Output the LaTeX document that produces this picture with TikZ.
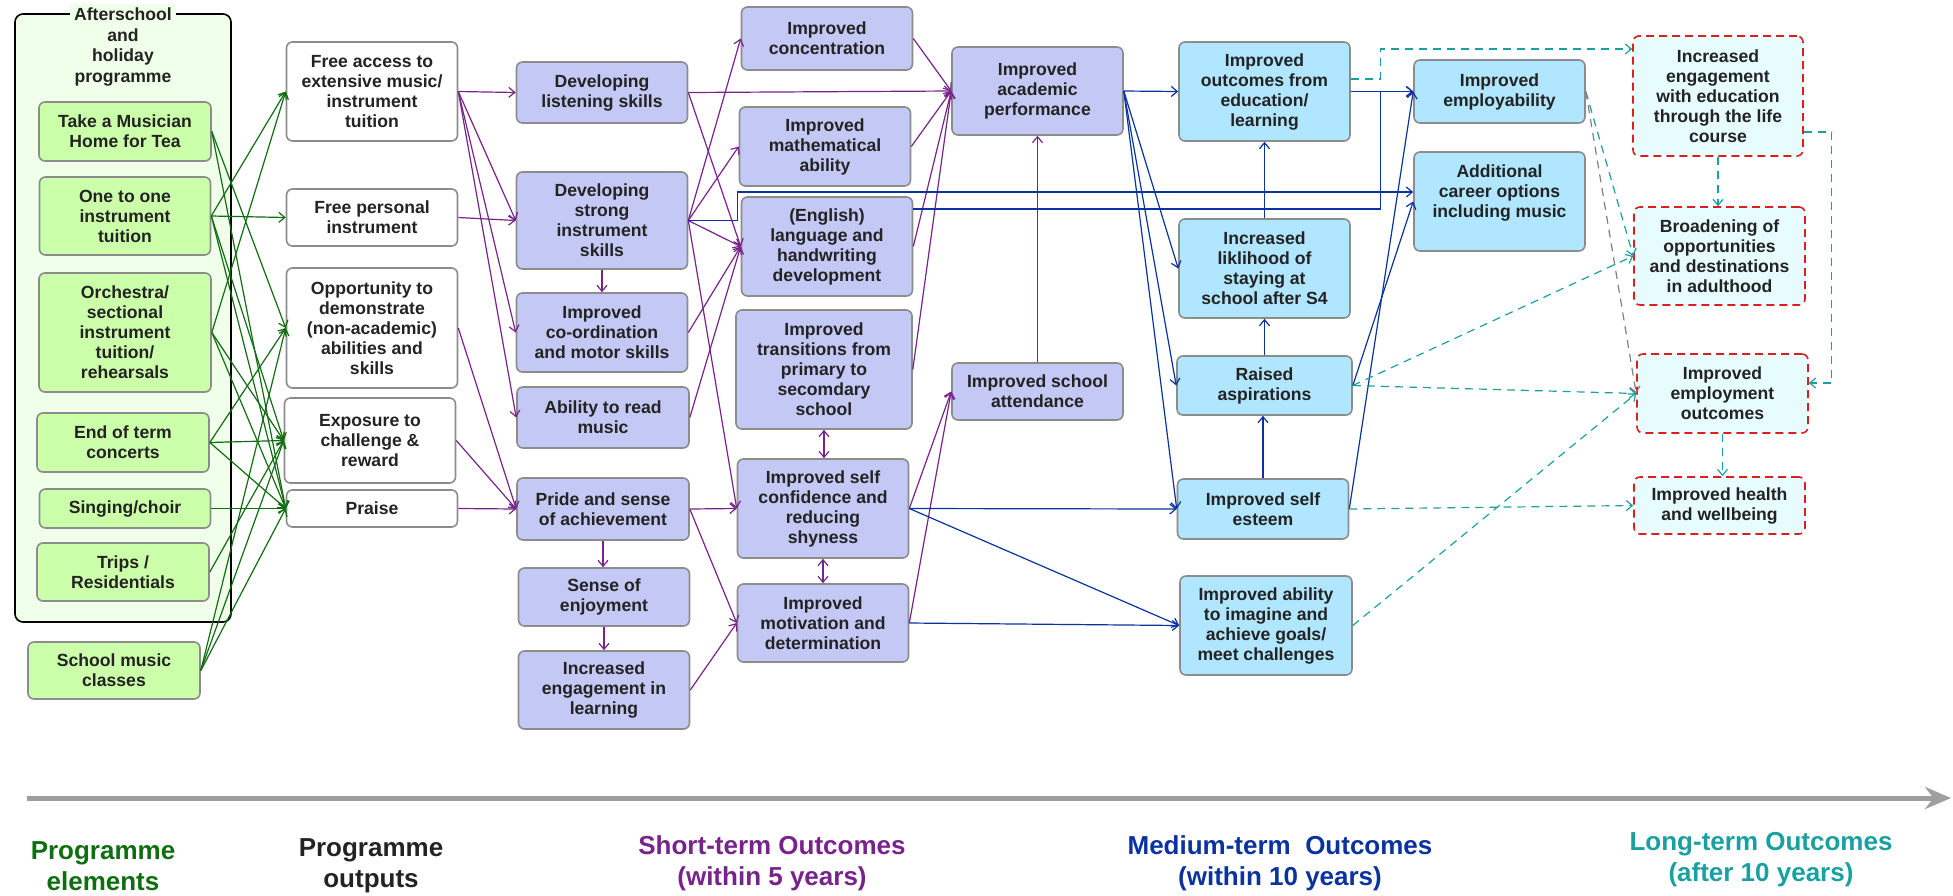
\documentclass[tikz,border=0pt]{standalone}
\usepackage{fontspec}
\setmainfont{Liberation Sans}
\usepackage{tikz}
\usetikzlibrary{arrows.meta, calc}

\definecolor{elemgreen}{RGB}{204, 255, 170}
\definecolor{groupgreen}{RGB}{240, 255, 234}
\definecolor{shortfill}{RGB}{196, 200, 244}
\definecolor{medfill}{RGB}{176, 230, 255}
\definecolor{longfill}{RGB}{230, 252, 255}
\definecolor{boxgrey}{RGB}{140, 140, 140}
\definecolor{dashred}{RGB}{220, 30, 30}
\definecolor{elemline}{RGB}{15, 110, 15}
\definecolor{shortline}{RGB}{120, 35, 140}
\definecolor{medline}{RGB}{10, 50, 160}
\definecolor{longline}{RGB}{25, 160, 160}
\definecolor{textdark}{RGB}{35, 35, 35}

\begin{document}
\begin{tikzpicture}[x=0.5pt, y=-0.5pt,
  box/.style={draw=boxgrey, line width=0.8pt, rounded corners=3pt, align=center, inner sep=2pt,
    text=textdark, font=\fontsize{8.8}{10}\selectfont\bfseries},
  boxsize/.style 2 args={minimum width=#1*0.5pt, minimum height=#2*0.5pt},
  elem/.style={box, fill=elemgreen},
  output/.style={box, fill=white},
  shortterm/.style={box, fill=shortfill},
  medterm/.style={box, fill=medfill},
  longterm/.style={box, fill=longfill, draw=dashred, dash pattern=on 4pt off 2.5pt},
  link/.style={line width=0.6pt, -{Straight Barb[length=3pt, width=5pt]}},
  twoway/.style={line width=0.6pt, {Straight Barb[length=3pt, width=5pt]}-{Straight Barb[length=3pt, width=5pt]}},
  gline/.style={link, draw=elemline},
  pline/.style={link, draw=shortline},
  bline/.style={link, draw=medline},
  tline/.style={link, draw=longline, dash pattern=on 4pt off 3pt},
  phase/.style={align=center, font=\fontsize{13}{15.5}\selectfont\bfseries}
]
  \useasboundingbox (0,0) rectangle (1953,895);

  % Afterschool group
  \node[draw=black, line width=0.8pt, fill=groupgreen, rounded corners=4pt, boxsize={216}{608}] (afterschool) at (123,318) {};
  \node[fill=groupgreen, inner sep=2pt, align=center, text=textdark, font=\fontsize{8.8}{10.3}\selectfont\bfseries] (afterschooltitle) at (123,47) {Afterschool\\and\\holiday\\programme};

  % Programme elements
  \node[elem, boxsize={172}{59}] (tea) at (125,131.5) {Take a Musician\\Home for Tea};
  \node[elem, boxsize={171}{78}] (one) at (125,216) {One to one\\instrument\\tuition};
  \node[elem, boxsize={172}{119}] (orch) at (125,332.5) {Orchestra/\\sectional\\instrument\\tuition/\\rehearsals};
  \node[elem, boxsize={172}{59}] (endterm) at (123,442.5) {End of term\\concerts};
  \node[elem, boxsize={171}{39}] (choir) at (125,508.5) {Singing/choir};
  \node[elem, boxsize={172}{58}] (trips) at (123,572) {Trips /\\Residentials};
  \node[elem, boxsize={172}{57}] (school) at (114,670.5) {School music\\classes};

  % Programme outputs
  \node[output, boxsize={171}{99}] (access) at (372,91.5) {Free access to\\extensive music/\\instrument\\tuition};
  \node[output, boxsize={171}{57}] (personal) at (372,217.5) {Free personal\\instrument};
  \node[output, boxsize={171}{120}] (opport) at (372,328) {Opportunity to\\demonstrate\\(non-academic)\\abilities and\\skills};
  \node[output, boxsize={171}{85}] (exposure) at (370,440.5) {Exposure to\\challenge \&\\reward};
  \node[output, boxsize={171}{37}] (praise) at (372,508.5) {Praise};

  % Short-term outcomes
  \node[shortterm, boxsize={171}{61}] (listen) at (602,92.5) {Developing\\listening skills};
  \node[shortterm, boxsize={171}{97}] (strong) at (602,220.5) {Developing\\strong\\instrument\\skills};
  \node[shortterm, boxsize={171}{79}] (coord) at (602,332.5) {Improved\\co-ordination\\and motor skills};
  \node[shortterm, boxsize={172}{61}] (read) at (603,417.5) {Ability to read\\music};
  \node[shortterm, boxsize={172}{62}] (pride) at (603,509) {Pride and sense\\of achievement};
  \node[shortterm, boxsize={171}{58}] (enjoy) at (604,597) {Sense of\\enjoyment};
  \node[shortterm, boxsize={171}{78}] (engage) at (604,690) {Increased\\engagement in\\learning};

  \node[shortterm, boxsize={171}{63}] (conc) at (827,38.5) {Improved\\concentration};
  \node[shortterm, boxsize={171}{79}] (maths) at (825,146.5) {Improved\\mathematical\\ability};
  \node[shortterm, boxsize={171}{99}] (english) at (827,246.5) {(English)\\language and\\handwriting\\development};
  \node[shortterm, boxsize={176}{119}] (trans) at (824,369.5) {Improved\\transitions from\\primary to\\secomdary\\school};
  \node[shortterm, boxsize={171}{99}] (confid) at (823,508.5) {Improved self\\confidence and\\reducing\\shyness};
  \node[shortterm, boxsize={171}{78}] (motiv) at (823,623) {Improved\\motivation and\\determination};

  \node[shortterm, boxsize={171}{88}] (academic) at (1037.5,91) {Improved\\academic\\performance};
  \node[shortterm, boxsize={171}{57}] (attend) at (1037.5,391.5) {Improved school\\attendance};

  % Medium-term outcomes
  \node[medterm, boxsize={171}{99}] (outcomes) at (1264.5,91.5) {Improved\\outcomes from\\education/\\learning};
  \node[medterm, boxsize={171}{99}] (likely) at (1264.5,268.5) {Increased\\liklihood of\\staying at\\school after S4};
  \node[medterm, boxsize={175}{59}] (raised) at (1264.5,385.5) {Raised\\aspirations};
  \node[medterm, boxsize={171}{60}] (esteem) at (1263,509) {Improved self\\esteem};
  \node[medterm, boxsize={172}{99}] (ability) at (1266,625.5) {Improved ability\\to imagine and\\achieve goals/\\meet challenges};

  \node[medterm, boxsize={171}{63}] (employ) at (1499.5,91.5) {Improved\\employability};
  \node[medterm, boxsize={171}{99}] (career) at (1499.5,201.5) {Additional\\career options\\including music\\\mbox{}};

  % Long-term outcomes
  \node[longterm, boxsize={170}{120}] (lifelong) at (1718,96) {Increased\\engagement\\with education\\through the life\\course};
  \node[longterm, boxsize={171}{98}] (broad) at (1719.5,256) {Broadening of\\opportunities\\and destinations\\in adulthood};
  \node[longterm, boxsize={171}{79}] (employout) at (1722.5,393.5) {Improved\\employment\\outcomes};
  \node[longterm, boxsize={171}{57}] (health) at (1719.5,505.5) {Improved health\\and wellbeing};

  % Elements to outputs
  \draw[gline] (tea.east) -- (opport.west);
  \draw[gline] (tea.east) -- (praise.west);
  \draw[gline] (one.east) -- (access.west);
  \draw[gline] (one.east) -- (personal.west);
  \draw[gline] (one.east) -- (exposure.west);
  \draw[gline] (one.east) -- (praise.west);
  \draw[gline] (orch.east) -- (access.west);
  \draw[gline] (orch.east) -- (exposure.west);
  \draw[gline] (orch.east) -- (praise.west);
  \draw[gline] (endterm.east) -- (opport.west);
  \draw[gline] (endterm.east) -- (exposure.west);
  \draw[gline] (endterm.east) -- (praise.west);
  \draw[gline] (choir.east) -- (praise.west);
  \draw[gline] (trips.east) -- (exposure.west);
  \draw[gline] (school.east) -- (opport.west);
  \draw[gline] (school.east) -- (exposure.west);
  \draw[gline] (school.east) -- (praise.west);

  % Outputs to short-term
  \draw[pline] (access.east) -- (listen.west);
  \draw[pline] (access.east) -- (strong.west);
  \draw[pline] (access.east) -- (coord.west);
  \draw[pline] (access.east) -- (read.west);
  \draw[pline] (personal.east) -- (strong.west);
  \draw[pline] (opport.east) -- (pride.west);
  \draw[pline] (exposure.east) -- (pride.west);
  \draw[pline] (praise.east) -- (pride.west);
  \draw[pline] (strong.south) -- (strong.south |- coord.north);
  \draw[pline] (pride.south) -- (pride.south |- enjoy.north);
  \draw[pline] (enjoy.south) -- (enjoy.south |- engage.north);

  % Within short-term
  \draw[pline] (listen.east) -- (academic.west);
  \draw[pline] (listen.east) -- (english.west);
  \draw[pline] (strong.east) -- (conc.west);
  \draw[pline] (strong.east) -- (maths.west);
  \draw[pline] (strong.east) -- (english.west);
  \draw[pline] (strong.east) -- (confid.west);
  \draw[pline] (coord.east) -- (english.west);
  \draw[pline] (read.east) -- (english.west);
  \draw[pline] (pride.east) -- (confid.west);
  \draw[pline] (pride.east) -- (motiv.west);
  \draw[pline] (engage.east) -- (motiv.west);
  \draw[twoway, draw=shortline] (trans.south) -- (trans.south |- confid.north);
  \draw[twoway, draw=shortline] (confid.south) -- (confid.south |- motiv.north);
  \draw[pline] (conc.east) -- (academic.west);
  \draw[pline] (maths.east) -- (academic.west);
  \draw[pline] (english.east) -- (academic.west);
  \draw[pline] (trans.east) -- (academic.west);
  \draw[pline] (confid.east) -- (attend.west);
  \draw[pline] (motiv.east) -- (attend.west);
  \draw[pline] (attend.north) -- (attend.north |- academic.south);

  % Medium-term
  \draw[bline] (strong.east) -- ++(49,0) |- ([yshift=4.75pt]career.west);
  \draw[bline] ([yshift=18.75pt]english.east) -| ([xshift=-16.5pt]employ.west) -- (employ.west);
  \draw[bline] (academic.east) -- (outcomes.west);
  \draw[bline] (academic.east) -- (likely.west);
  \draw[bline] (academic.east) -- (raised.west);
  \draw[bline] (academic.east) -- (esteem.west);
  \draw[bline] (confid.east) -- (esteem.west);
  \draw[bline] (confid.east) -- (ability.west);
  \draw[bline] (motiv.east) -- (ability.west);
  \draw[bline] (raised.north) -- (raised.north |- likely.south);
  \draw[bline] (likely.north) -- (likely.north |- outcomes.south);
  \draw[bline] (esteem.north) -- (esteem.north |- raised.south);
  \draw[bline] (outcomes.east) -- (employ.west);
  \draw[bline] (raised.east) -- (career.west);
  \draw[bline] (esteem.east) -- (employ.west);

  % Long-term
  \draw[tline] ([yshift=6.25pt]outcomes.east) -| ([xshift=-126pt, yshift=23.5pt]lifelong.west) -- ([yshift=23.5pt]lifelong.west);
  \draw[tline] (employ.east) -- (broad.west);
  \draw[link, draw=gray, dash pattern=on 4pt off 3pt] (employ.east) -- (employout.west);
  \draw[tline] (raised.east) -- (broad.west);
  \draw[tline] (raised.east) -- (employout.west);
  \draw[tline] (ability.east) -- (employout.west);
  \draw[tline] (esteem.east) -- (health.west);
  \draw[tline] (lifelong.south) -- (lifelong.south |- broad.north);
  \draw[tline] ([yshift=-18pt]lifelong.east) -| ([xshift=11.5pt, yshift=5.25pt]employout.east) -- ([yshift=5.25pt]employout.east);
  \draw[tline] (employout.south) -- (employout.south |- health.north);

  % Time line and phases
  \coordinate (tstart) at (27,798);
  \coordinate (tend) at (1951,798);
  \draw[line width=2.5pt, draw=gray!75, -{Stealth[length=13pt, width=11pt]}] (tstart) -- (tend);

  \node[phase, text=elemline] (phaseelem) at (103,866) {Programme\\elements};
  \node[phase, text=textdark] (phaseout) at (371,866) {Programme\\outputs};
  \node[phase, text=shortline] (phaseshort) at (772,863) {Short-term Outcomes\\(within 5 years)};
  \node[phase, text=medline] (phasemed) at (1280,863) {Medium-term~ Outcomes\\(within 10 years)};
  \node[phase, text=longline] (phaselong) at (1761,860) {Long-term Outcomes\\(after 10 years)};
\end{tikzpicture}
\end{document}
